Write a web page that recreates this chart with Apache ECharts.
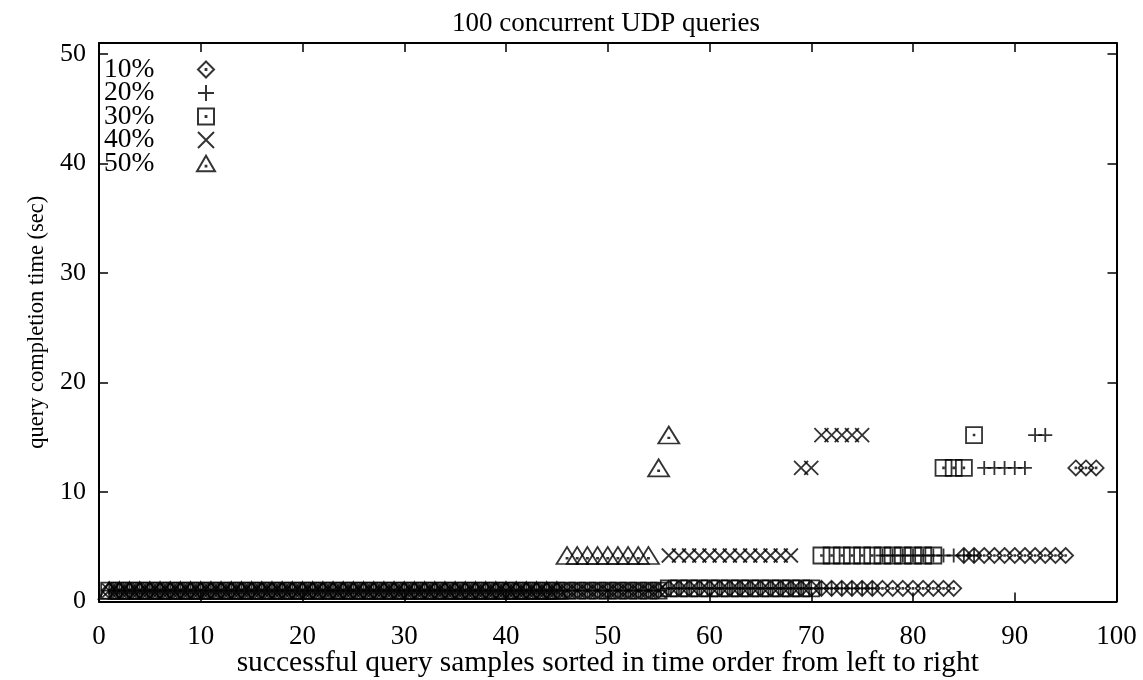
<!DOCTYPE html>
<html>
<head>
<meta charset="utf-8">
<title>100 concurrent UDP queries</title>
<script src="https://cdn.jsdelivr.net/npm/echarts@6/dist/echarts.min.js"></script>
<style>
  html, body { margin: 0; padding: 0; background: #fff; }
  #chart { width: 1143px; height: 680px; }
</style>
</head>
<body>
<div id="chart"></div>
<script>
// Completion time (sec) of each successful query, in time order, per loss rate
const pct10 = [
  1.0, 1.0, 1.0, 1.0, 1.0, 1.0, 1.0, 1.0, 1.0, 1.0,
  1.0, 1.0, 1.0, 1.0, 1.0, 1.0, 1.0, 1.0, 1.0, 1.0,
  1.0, 1.0, 1.0, 1.0, 1.0, 1.0, 1.0, 1.0, 1.0, 1.0,
  1.0, 1.0, 1.0, 1.0, 1.0, 1.0, 1.0, 1.0, 1.0, 1.0,
  1.0, 1.0, 1.0, 1.0, 1.0, 1.0, 1.0, 1.0, 1.0, 1.0,
  1.0, 1.0, 1.0, 1.0, 1.0, 1.2, 1.2, 1.2, 1.2, 1.2,
  1.2, 1.2, 1.2, 1.2, 1.2, 1.2, 1.2, 1.2, 1.2, 1.2,
  1.2, 1.2, 1.2, 1.2, 1.2, 1.2, 1.2, 1.2, 1.2, 1.2,
  1.2, 1.2, 1.2, 1.2, 4.2, 4.2, 4.2, 4.2, 4.2, 4.2,
  4.2, 4.2, 4.2, 4.2, 4.2, 12.2, 12.2, 12.2
];
const pct20 = [
  1.0, 1.0, 1.0, 1.0, 1.0, 1.0, 1.0, 1.0, 1.0, 1.0,
  1.0, 1.0, 1.0, 1.0, 1.0, 1.0, 1.0, 1.0, 1.0, 1.0,
  1.0, 1.0, 1.0, 1.0, 1.0, 1.0, 1.0, 1.0, 1.0, 1.0,
  1.0, 1.0, 1.0, 1.0, 1.0, 1.0, 1.0, 1.0, 1.0, 1.0,
  1.0, 1.0, 1.0, 1.0, 1.0, 1.0, 1.0, 1.0, 1.0, 1.0,
  1.0, 1.0, 1.0, 1.0, 1.0, 1.2, 1.2, 1.2, 1.2, 1.2,
  1.2, 1.2, 1.2, 1.2, 1.2, 1.2, 1.2, 1.2, 1.2, 1.2,
  1.2, 1.2, 1.2, 1.2, 1.2, 1.2, 4.2, 4.2, 4.2, 4.2,
  4.2, 4.2, 4.2, 4.2, 4.2, 4.2, 12.2, 12.2, 12.2, 12.2,
  12.2, 15.2, 15.2
];
const pct30 = [
  1.0, 1.0, 1.0, 1.0, 1.0, 1.0, 1.0, 1.0, 1.0, 1.0,
  1.0, 1.0, 1.0, 1.0, 1.0, 1.0, 1.0, 1.0, 1.0, 1.0,
  1.0, 1.0, 1.0, 1.0, 1.0, 1.0, 1.0, 1.0, 1.0, 1.0,
  1.0, 1.0, 1.0, 1.0, 1.0, 1.0, 1.0, 1.0, 1.0, 1.0,
  1.0, 1.0, 1.0, 1.0, 1.0, 1.0, 1.0, 1.0, 1.0, 1.0,
  1.0, 1.0, 1.0, 1.0, 1.0, 1.2, 1.2, 1.2, 1.2, 1.2,
  1.2, 1.2, 1.2, 1.2, 1.2, 1.2, 1.2, 1.2, 1.2, 1.2,
  4.2, 4.2, 4.2, 4.2, 4.2, 4.2, 4.2, 4.2, 4.2, 4.2,
  4.2, 4.2, 12.2, 12.2, 12.2, 15.2
];
const pct40 = [
  1.0, 1.0, 1.0, 1.0, 1.0, 1.0, 1.0, 1.0, 1.0, 1.0,
  1.0, 1.0, 1.0, 1.0, 1.0, 1.0, 1.0, 1.0, 1.0, 1.0,
  1.0, 1.0, 1.0, 1.0, 1.0, 1.0, 1.0, 1.0, 1.0, 1.0,
  1.0, 1.0, 1.0, 1.0, 1.0, 1.0, 1.0, 1.0, 1.0, 1.0,
  1.0, 1.0, 1.0, 1.0, 1.0, 1.0, 1.0, 1.0, 1.0, 1.0,
  1.0, 1.0, 1.0, 1.0, 1.0, 4.2, 4.2, 4.2, 4.2, 4.2,
  4.2, 4.2, 4.2, 4.2, 4.2, 4.2, 4.2, 4.2, 12.2, 12.2,
  15.2, 15.2, 15.2, 15.2, 15.2
];
const pct50 = [
  1.0, 1.0, 1.0, 1.0, 1.0, 1.0, 1.0, 1.0, 1.0, 1.0,
  1.0, 1.0, 1.0, 1.0, 1.0, 1.0, 1.0, 1.0, 1.0, 1.0,
  1.0, 1.0, 1.0, 1.0, 1.0, 1.0, 1.0, 1.0, 1.0, 1.0,
  1.0, 1.0, 1.0, 1.0, 1.0, 1.0, 1.0, 1.0, 1.0, 1.0,
  1.0, 1.0, 1.0, 1.0, 1.0, 4.2, 4.2, 4.2, 4.2, 4.2,
  4.2, 4.2, 4.2, 4.2, 12.2, 15.2
];

const seriesNames = ['10%', '20%', '30%', '40%', '50%'];
const seriesValues = [pct10, pct20, pct30, pct40, pct50];

const xTicks = { min: 0, max: 100, step: 10 };
const yTicks = { min: 0, max: 51, step: 10 };

const titleText = '100 concurrent UDP queries';
const xName = 'successful query samples sorted in time order from left to right';
const yName = 'query completion time (sec)';

// Hollow point glyphs with a centre dot, drawn as strokes
const DOT = ' M5.7,5.7L6.3,5.7L6.3,6.3L5.7,6.3Z';
const glyphs = [
  { symbol: 'path://M6,0L12,6L6,12L0,6Z' + DOT, size: 15 },
  { symbol: 'path://M0,6L12,6M6,0L6,12', size: 14 },
  { symbol: 'path://M0,0L12,0L12,12L0,12Z' + DOT, size: 16 },
  { symbol: 'path://M0,0L12,12M12,0L0,12', size: 14 },
  { symbol: 'path://M7,0L14,12L0,12Z M6.7,7.7L7.3,7.7L7.3,8.3L6.7,8.3Z', size: [21, 17] }
];

const FONT = 'Liberation Serif';
const INK = '#000';

function frameAxis(position, withLabels, range) {
  return {
    type: 'value',
    position: position,
    min: range.min,
    max: range.max,
    interval: range.step,
    axisLine: { show: true, onZero: false, lineStyle: { color: INK, width: 2 } },
    axisTick: { show: true, inside: true, length: 9, lineStyle: { color: INK, width: 1.5 } },
    splitLine: { show: false },
    axisLabel: withLabels ? {
      show: true,
      color: INK,
      fontFamily: FONT,
      fontSize: 26,
      formatter: v => (v % 10 === 0 ? String(v) : '')
    } : { show: false }
  };
}

const xBottom = frameAxis('bottom', true, xTicks);
xBottom.axisLabel.fontSize = 27;
xBottom.axisLabel.margin = 22;
xBottom.name = xName;
xBottom.nameLocation = 'middle';
xBottom.nameGap = 47;
xBottom.nameMoveOverlap = false;
xBottom.nameTextStyle = { color: INK, fontFamily: FONT, fontSize: 29.5 };

const yLeft = frameAxis('left', true, yTicks);
yLeft.axisLabel.margin = 13;
yLeft.name = yName;
yLeft.nameLocation = 'middle';
yLeft.nameGap = 50;
yLeft.nameMoveOverlap = false;
yLeft.nameTextStyle = { color: INK, fontFamily: FONT, fontSize: 22.5 };

const chart = echarts.init(document.getElementById('chart'), null, { renderer: 'canvas' });

chart.setOption({
  backgroundColor: '#fff',
  animation: false,
  title: {
    text: titleText,
    left: 601,
    textAlign: 'center',
    top: 5,
    textStyle: { color: INK, fontFamily: FONT, fontSize: 27, fontWeight: 'normal' }
  },
  grid: {
    left: 99, right: 26.5, top: 43, bottom: 78.5,
    containLabel: false,
    outerBoundsMode: 'none'
  },
  xAxis: [xBottom, frameAxis('top', false, xTicks)],
  yAxis: [yLeft, frameAxis('right', false, yTicks)],
  legend: {
    orient: 'vertical',
    left: 104,
    top: 55.5,
    align: 'right',
    itemGap: -4.5,
    itemWidth: 18,
    itemHeight: 16,
    padding: 0,
    selectedMode: false,
    data: seriesNames,
    formatter: name => '{n|' + name + '}',
    textStyle: {
      color: INK,
      fontFamily: FONT,
      fontSize: 27,
      rich: {
        n: { width: 88, align: 'left', color: INK, fontFamily: FONT, fontSize: 27.5 }
      }
    }
  },
  series: seriesValues.map((vals, k) => ({
    name: seriesNames[k],
    type: 'scatter',
    xAxisIndex: 0,
    yAxisIndex: 0,
    symbol: glyphs[k].symbol,
    symbolSize: glyphs[k].size,
    itemStyle: { color: 'rgba(0,0,0,0)', borderColor: INK, borderWidth: 1.8 },
    emphasis: { disabled: true },
    data: vals.map((v, i) => [i + 1, v])
  }))
});
</script>
</body>
</html>
